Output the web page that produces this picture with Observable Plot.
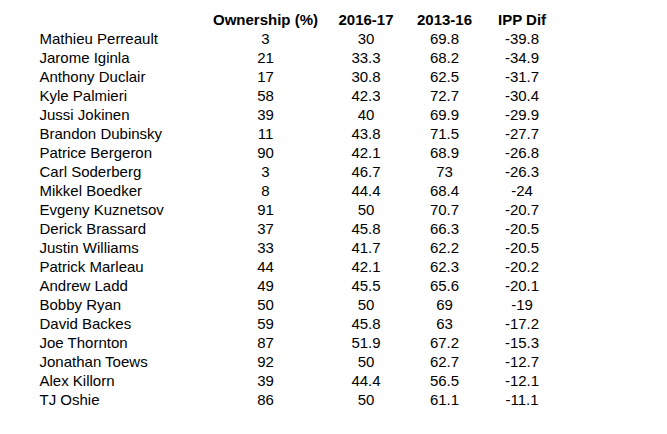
<!DOCTYPE html>
<html>
<head>
<meta charset="utf-8">
<script src="https://cdn.jsdelivr.net/npm/d3@7"></script>
<script src="https://cdn.jsdelivr.net/npm/@observablehq/plot@0.6"></script>
<style>
  html, body { margin: 0; padding: 0; background: #fff; }
  #chart svg { display: block; }
</style>
</head>
<body>
<div id="chart"></div>
<script>
// ---- data ----
const columns = ["Player", "Ownership (%)", "2016-17", "2013-16", "IPP Dif"];
const players = ["Mathieu Perreault", "Jarome Iginla", "Anthony Duclair", "Kyle Palmieri", "Jussi Jokinen",
  "Brandon Dubinsky", "Patrice Bergeron", "Carl Soderberg", "Mikkel Boedker", "Evgeny Kuznetsov",
  "Derick Brassard", "Justin Williams", "Patrick Marleau", "Andrew Ladd", "Bobby Ryan",
  "David Backes", "Joe Thornton", "Jonathan Toews", "Alex Killorn", "TJ Oshie"];
const ownership = [3, 21, 17, 58, 39, 11, 90, 3, 8, 91, 37, 33, 44, 49, 50, 59, 87, 92, 39, 86];
const ipp1617 = [30, 33.3, 30.8, 42.3, 40, 43.8, 42.1, 46.7, 44.4, 50, 45.8, 41.7, 42.1, 45.5, 50, 45.8, 51.9, 50, 44.4, 50];
const ipp1316 = [69.8, 68.2, 62.5, 72.7, 69.9, 71.5, 68.9, 73, 68.4, 70.7, 66.3, 62.2, 62.3, 65.6, 69, 63, 67.2, 62.7, 56.5, 61.1];
const ippDif = [-39.8, -34.9, -31.7, -30.4, -29.9, -27.7, -26.8, -26.3, -24, -20.7, -20.5, -20.5, -20.2, -20.1, -19, -17.2, -15.3, -12.7, -12.1, -11.1];

// ---- table layout (column anchors in page units) ----
const colAnchor = {"Player": 39, "Ownership (%)": 265, "2016-17": 365.5, "2013-16": 444, "IPP Dif": 521.5};

const rowKeys = ["header", ...players];
const headerCells = columns.slice(1).map(c => ({col: c, row: "header", text: c}));
const bodyCells = players.flatMap((p, i) => [
  {col: "Ownership (%)", row: p, text: String(ownership[i])},
  {col: "2016-17", row: p, text: String(ipp1617[i])},
  {col: "2013-16", row: p, text: String(ipp1316[i])},
  {col: "IPP Dif", row: p, text: String(ippDif[i])}
]);
const nameCells = players.map(p => ({col: "Player", row: p, text: p}));

const chart = Plot.plot({
  width: 667,
  height: 434,
  margin: 0,
  style: {fontFamily: "'Liberation Sans', Arial, sans-serif", fontSize: "15px", color: "#000", background: "#fff"},
  x: {type: "linear", domain: [0, 667], range: [0, 667], axis: null},
  y: {type: "point", domain: rowKeys, range: [19.5, 399.5], padding: 0, axis: null},
  marks: [
    Plot.text(headerCells, {x: d => colAnchor[d.col], y: "row", text: "text", fontWeight: "bold", fontSize: 15, fill: "#000"}),
    Plot.text(bodyCells, {x: d => colAnchor[d.col], y: "row", text: "text", fontSize: 15, fill: "#000"}),
    Plot.text(nameCells, {x: d => colAnchor[d.col], y: "row", text: "text", textAnchor: "start", fontSize: 15, fill: "#000"})
  ]
});
document.getElementById("chart").append(chart);
</script>
</body>
</html>
